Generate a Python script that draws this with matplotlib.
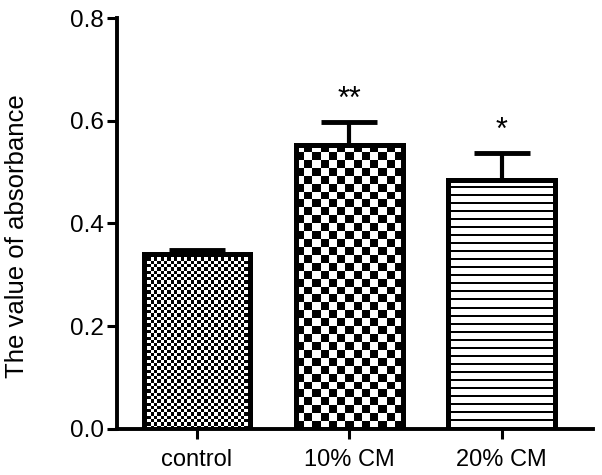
import numpy as np
import matplotlib
matplotlib.use('Agg')
from matplotlib import pyplot as plt

plt.rcParams['font.family'] = ['Liberation Sans', 'DejaVu Sans']

groups = ['control', '10% CM', '20% CM']
means = [0.340, 0.553, 0.485]
errs = [0.008, 0.045, 0.052]
stars = ['', '**', '*']
y_ticks = [0.0, 0.2, 0.4, 0.6, 0.8]


def checker(ny: int, nx: int) -> np.ndarray:
    ii, jj = np.indices((ny, nx))
    return ((ii + jj) % 2).astype(float)


def hlines(ny: int, nx: int, period: int, thick: int) -> np.ndarray:
    ii = np.indices((ny, nx))[0]
    return (ii % period >= thick).astype(float)


fig = plt.figure(figsize=(6.02, 4.75), dpi=100)
ax = fig.add_axes([0.194, 0.097, 0.791, 0.865])

x = np.arange(len(groups))
width = 0.7
ax.set_xlim(-0.526, 2.6)
ax.set_ylim(0, 0.8)

bars = ax.bar(x, means, width=width, facecolor='none', edgecolor='black', linewidth=3.6, zorder=3)

# fill each bar with a pattern image clipped to the bar
px_x = ax.transData.transform((1, 0))[0] - ax.transData.transform((0, 0))[0]
px_y = ax.transData.transform((0, 1))[1] - ax.transData.transform((0, 0))[1]
for i, bar in enumerate(bars):
    x0 = bar.get_x()
    h = bar.get_height()
    w_px = width * px_x
    h_px = h * px_y
    if i == 0:
        cell = 3.3
        img = checker(int(round(h_px / cell)), int(round(w_px / cell)))
    elif i == 1:
        cell = 8.0
        img = checker(int(round(h_px / cell)), int(round(w_px / cell)))
    else:
        img = hlines(int(round(h_px)), 4, 8, 2)
    im = ax.imshow(img, cmap='gray', vmin=0, vmax=1, interpolation='nearest', aspect='auto',
                   extent=(x0, x0 + width, 0, h), origin='lower', zorder=2)
    im.set_clip_path(bar)

eb = ax.errorbar(x, means, yerr=[np.zeros(len(errs)), errs], fmt='none', ecolor='black',
                 elinewidth=3, capsize=20, capthick=3.5, zorder=4)
for cap in eb[1]:
    cap.set_solid_capstyle('round')

for xi, m, e, s in zip(x, means, errs, stars):
    if s:
        ax.text(xi, m + e + 0.014, s, ha='center', va='bottom', fontsize=22)

ax.set_xticks(x)
ax.set_xticklabels(groups, fontsize=17)
ax.set_yticks(y_ticks)
ax.set_yticklabels(['{:.1f}'.format(t) for t in y_ticks], fontsize=17.5)
ax.set_ylabel('The value of absorbance', fontsize=18.5)
ax.yaxis.set_label_coords(-0.185, 0.47)

for side in ['top', 'right']:
    ax.spines[side].set_visible(False)
for side in ['left', 'bottom']:
    ax.spines[side].set_linewidth(2.8)
ax.tick_params(axis='both', length=7.5, width=2.2, direction='out')
ax.tick_params(axis='y', pad=2)
ax.tick_params(axis='x', pad=7)
ax.set_xlim(-0.526, 2.6)
ax.set_ylim(0, 0.8)

fig.savefig('out.png', dpi=100)
